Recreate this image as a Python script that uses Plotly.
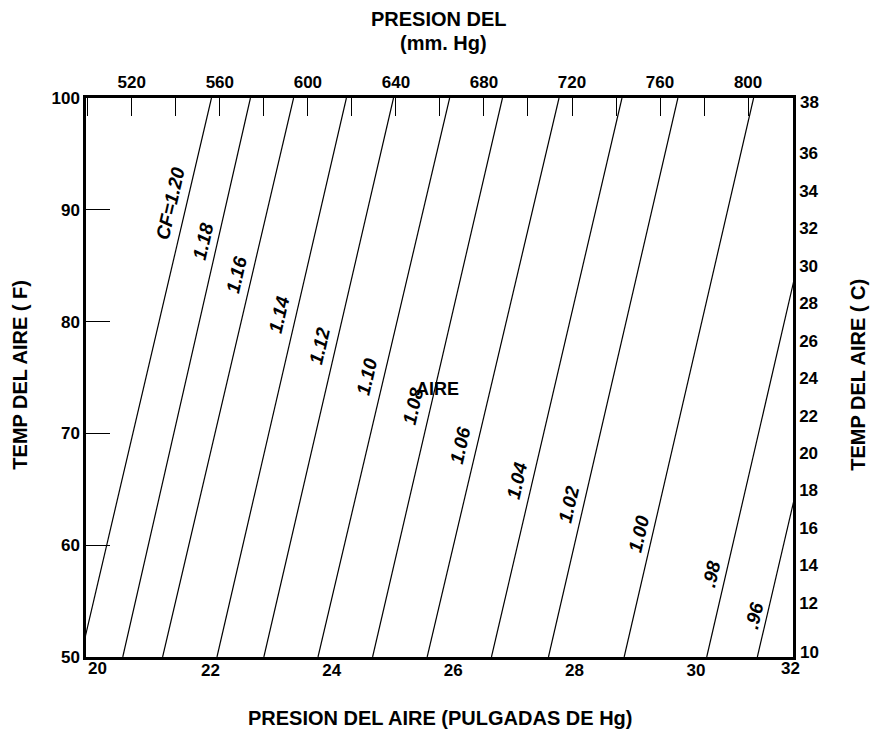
import plotly.graph_objects as go

# correction factor lines, pressure in mm Hg where each line meets 50 F and 100 F
cf_labels = ["CF=1.20", "1.18", "1.16", "1.14", "1.12", "1.10", "1.08",
             "1.06", "1.04", "1.02", "1.00", ".98", ".96"]
p_mm_at_50f = [496.7, 515.9, 534.0, 558.7, 580.0, 604.6, 629.4,
               654.2, 683.4, 709.3, 743.7, 781.2, 804.2]
p_mm_at_100f = [556.2, 573.9, 593.5, 617.5, 638.9, 664.4, 688.4,
                714.1, 742.7, 768.1, 802.5, 840.0, 863.5]
temp_ends_f = [50, 100]

# where the labels sit along each line (mm Hg, F)
label_mm = [537.4, 552.3, 567.7, 587.1, 605.2, 626.8, 647.8,
            669.3, 695.0, 718.7, 750.2, 783.2, 802.9]
label_f = [90.6, 87.2, 84.2, 80.6, 77.8, 75.1, 72.4,
           68.9, 65.8, 63.6, 61.0, 57.4, 53.7]

# axis ticks
inhg_ticks = [22, 24, 26, 28, 30]
temp_f_ticks = [50, 60, 70, 80, 90, 100]
temp_c_ticks = [12, 14, 16, 18, 20, 22, 24, 26, 28, 30, 32, 34, 36]

FONT = "Liberation Sans, Arial, sans-serif"
tick_font = dict(family=FONT, size=17, color="black", weight="bold")
title_font = dict(family=FONT, size=20, color="black", weight="bold")

fig = go.Figure()

for i, lab in enumerate(cf_labels):
    fig.add_trace(go.Scatter(
        x=[p_mm_at_50f[i], p_mm_at_100f[i]],
        y=temp_ends_f,
        mode="lines",
        line=dict(color="black", width=1.2),
        xaxis="x2", yaxis="y",
        name=lab, showlegend=False, hoverinfo="skip"
    ))

# dummy trace so the bottom / right axes are drawn
fig.add_trace(go.Scatter(x=[None], y=[None], xaxis="x", yaxis="y2",
                         showlegend=False, hoverinfo="skip"))

annotations = []
for i, lab in enumerate(cf_labels):
    annotations.append(dict(
        x=label_mm[i], y=label_f[i], xref="x2", yref="y",
        text=lab, showarrow=False, textangle=-77,
        font=dict(family=FONT, size=19, color="black", weight="bold", style="italic")
    ))

annotations.append(dict(x=658.9, y=74.0, xref="x2", yref="y", text="AIRE",
                        showarrow=False, font=dict(family=FONT, size=18, color="black", weight="bold")))

# corner labels
annotations += [
    dict(x=0.0156, y=-0.02, xref="paper", yref="paper", text="20", showarrow=False,
         xanchor="center", yanchor="middle", font=tick_font),
    dict(x=0.9958, y=-0.02, xref="paper", yref="paper", text="32", showarrow=False,
         xanchor="center", yanchor="middle", font=tick_font),
    dict(x=1.024, y=0.0072, xref="paper", yref="paper", text="10", showarrow=False,
         xanchor="center", yanchor="middle", font=tick_font),
    dict(x=1.024, y=0.9928, xref="paper", yref="paper", text="38", showarrow=False,
         xanchor="center", yanchor="middle", font=tick_font),
]

# titles
annotations += [
    dict(x=0.4993, y=1.1406, xref="paper", yref="paper", text="PRESION DEL",
         showarrow=False, xanchor="center", yanchor="middle", font=title_font),
    dict(x=0.505, y=1.0976, xref="paper", yref="paper", text="(mm. Hg)",
         showarrow=False, xanchor="center", yanchor="middle", font=title_font),
    dict(x=0.5007, y=-0.109, xref="paper", yref="paper",
         text="PRESION DEL AIRE (PULGADAS DE Hg)",
         showarrow=False, xanchor="center", yanchor="middle", font=title_font),
    dict(x=-0.0934, y=0.505, xref="paper", yref="paper", text="TEMP DEL AIRE ( F)",
         showarrow=False, textangle=-90, xanchor="center", yanchor="middle", font=title_font),
    dict(x=1.092, y=0.505, xref="paper", yref="paper", text="TEMP DEL AIRE ( C)",
         showarrow=False, textangle=-90, xanchor="center", yanchor="middle", font=title_font),
]

axis_common = dict(showline=True, linewidth=2.5, linecolor="black", showgrid=False,
                   zeroline=False, ticks="inside", tickcolor="black", tickwidth=1,
                   tickfont=tick_font, fixedrange=True)

fig.update_layout(
    width=879, height=731,
    margin=dict(l=86, r=86, t=98, b=74),
    paper_bgcolor="white", plot_bgcolor="white",
    showlegend=False,
    xaxis=dict(range=[19.95, 31.6], tickvals=inhg_ticks, ticklen=22,
               ticklabelstandoff=-4, **axis_common),
    xaxis2=dict(range=[499.2, 820.4], overlaying="x", side="top", tick0=520, dtick=40,
                ticklen=18, minor=dict(dtick=20, tick0=520, ticks="inside", ticklen=18,
                                       tickcolor="black", tickwidth=1),
                **axis_common),
    yaxis=dict(range=[50, 100], tickvals=temp_f_ticks, ticklen=24, **axis_common),
    yaxis2=dict(range=[9.12, 38.94], overlaying="y", side="right", tickvals=temp_c_ticks,
                ticklen=19, **axis_common),
    annotations=annotations,
)

# page body margin would push the 879x731 figure out of the window
fig.write_html("out.html", config={"displayModeBar": False},
               post_script="document.body.style.margin='0px';")
